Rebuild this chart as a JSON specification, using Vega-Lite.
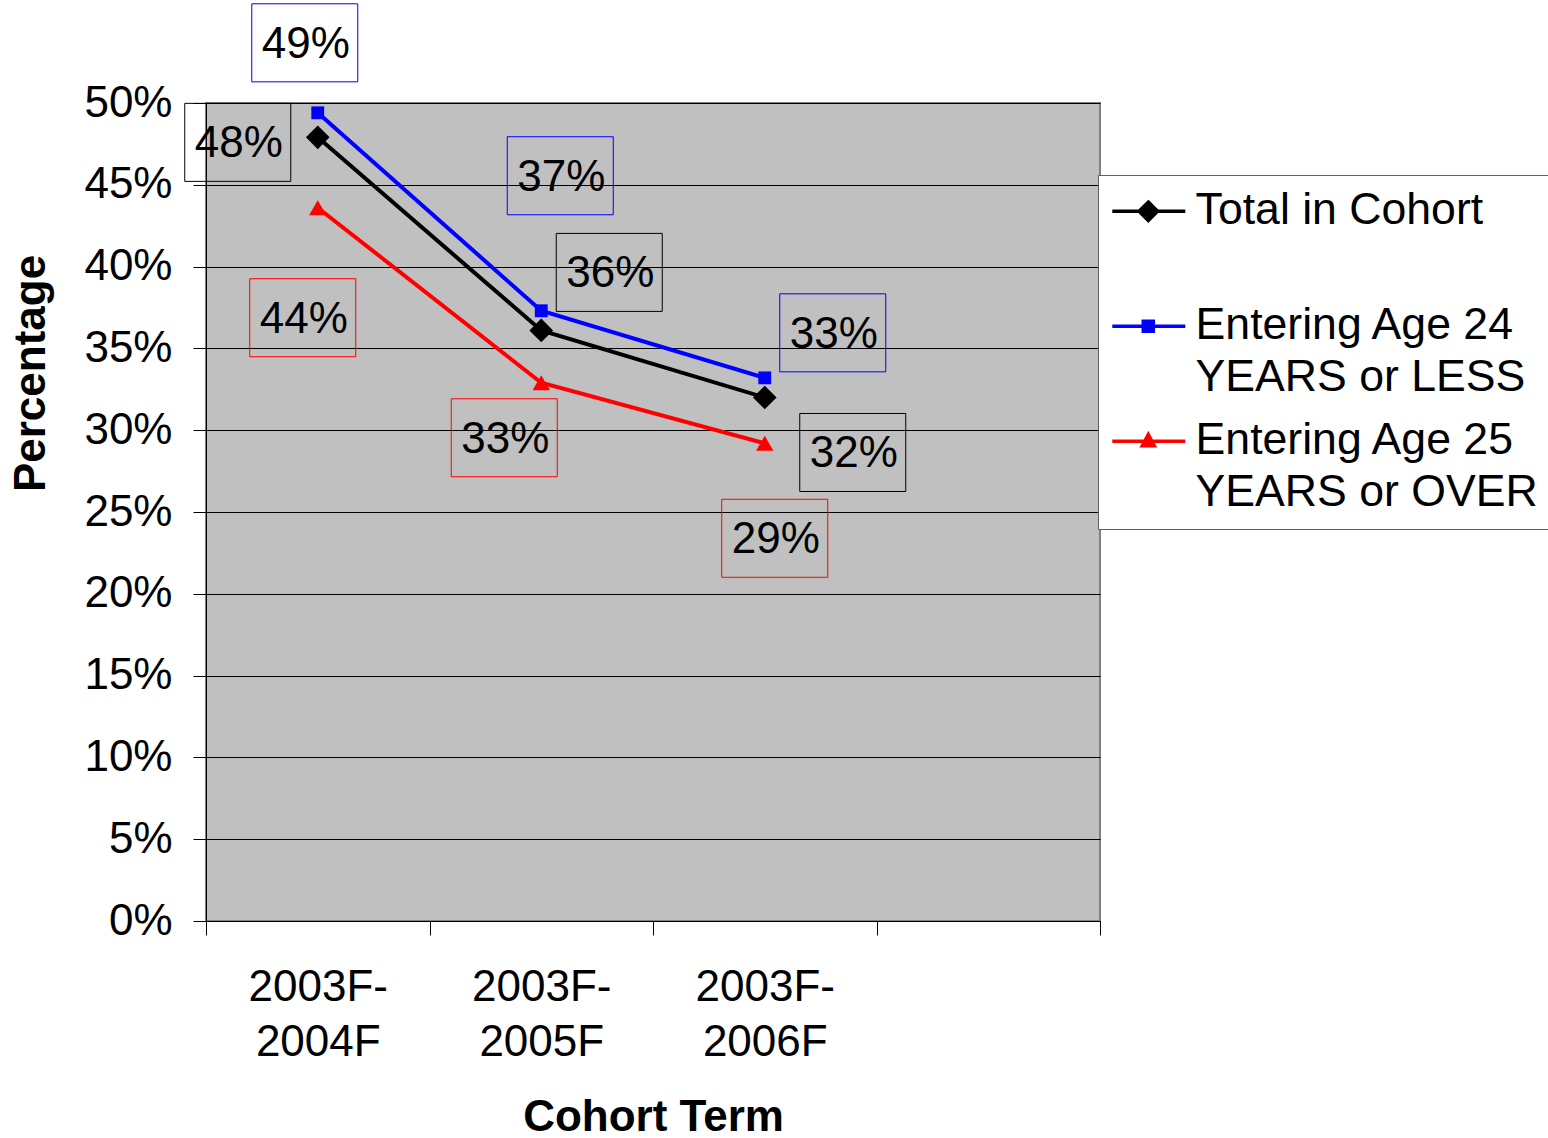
{
  "$schema": "https://vega.github.io/schema/vega-lite/v6.json",
  "width": 894,
  "height": 818,
  "autosize": {"type": "none"},
  "padding": {"left": 206, "top": 103, "right": 448, "bottom": 217},
  "background": "white",
  "config": {
    "font": "Liberation Sans",
    "view": {"fill": "#C0C0C0", "stroke": "#808080", "strokeWidth": 2},
    "style": {"guide-label": {"lineHeight": 52}},
    "legend": {
      "title": null,
      "orient": "none",
      "legendX": 892,
      "legendY": 72,
      "direction": "vertical",
      "columns": 1,
      "padding": 14,
      "fillColor": "white",
      "strokeColor": "#606060",
      "symbolSize": 1600,
      "symbolStrokeWidth": 3.5,
      "labelFontSize": 44.6,
      "labelColor": "black",
      "labelLimit": 1000,
      "labelOffset": 39,
      "labelBaseline": "middle",
      "rowPadding": 18
    }
  },
  "data": {
    "values": [
      {"series": "Total in Cohort", "term": "2003F-2004F", "pct": 0.479},
      {"series": "Total in Cohort", "term": "2003F-2005F", "pct": 0.361},
      {"series": "Total in Cohort", "term": "2003F-2006F", "pct": 0.320},
      {"series": "Entering Age 24 YEARS or LESS", "term": "2003F-2004F", "pct": 0.494},
      {"series": "Entering Age 24 YEARS or LESS", "term": "2003F-2005F", "pct": 0.373},
      {"series": "Entering Age 24 YEARS or LESS", "term": "2003F-2006F", "pct": 0.332},
      {"series": "Entering Age 25 YEARS or OVER", "term": "2003F-2004F", "pct": 0.436},
      {"series": "Entering Age 25 YEARS or OVER", "term": "2003F-2005F", "pct": 0.329},
      {"series": "Entering Age 25 YEARS or OVER", "term": "2003F-2006F", "pct": 0.292}
    ]
  },
  "encoding": {
    "x": {
      "field": "term",
      "type": "nominal",
      "scale": {"type": "band", "domain": ["2003F-2004F", "2003F-2005F", "2003F-2006F", " "], "paddingInner": 0, "paddingOuter": 0},
      "axis": {
        "title": "Cohort Term",
        "titleFontSize": 44,
        "titleFontWeight": "bold",
        "titleColor": "black",
        "titlePadding": 31,
        "labelAngle": 0,
        "labelFontSize": 44,
        "labelColor": "black",
        "labelLineHeight": 55,
        "labelPadding": 30,
        "labelExpr": "[slice(datum.label, 0, 6), slice(datum.label, 6)]",
        "tickBand": "extent",
        "tickSize": 14,
        "tickColor": "black",
        "domainColor": "black",
        "grid": false
      }
    },
    "y": {
      "field": "pct",
      "type": "quantitative",
      "scale": {"domain": [0, 0.5], "nice": false},
      "axis": {
        "title": "Percentage",
        "titleFontSize": 44,
        "titleFontWeight": "bold",
        "titleColor": "black",
        "titlePadding": 30,
        "titleY": 270,
        "values": [0, 0.05, 0.1, 0.15, 0.2, 0.25, 0.3, 0.35, 0.4, 0.45, 0.5],
        "format": ".0%",
        "labelFontSize": 44,
        "labelColor": "black",
        "labelPadding": 21,
        "tickSize": 13,
        "tickColor": "black",
        "domainColor": "black",
        "grid": true,
        "gridColor": "black",
        "gridWidth": 1
      }
    }
  },
  "layer": [
    {
      "mark": {"type": "line", "strokeWidth": 4},
      "encoding": {
        "color": {
          "field": "series",
          "type": "nominal",
          "scale": {"domain": ["Total in Cohort", "Entering Age 24 YEARS or LESS", "Entering Age 25 YEARS or OVER"], "range": ["#000000", "#0000FF", "#FF0000"]},
          "legend": null
        }
      }
    },
    {
      "transform": [{"filter": "datum.series === 'Total in Cohort'"}],
      "mark": {"type": "point", "shape": "diamond", "size": 560, "filled": true, "color": "#000000", "opacity": 1}
    },
    {
      "transform": [{"filter": "datum.series === 'Entering Age 24 YEARS or LESS'"}],
      "mark": {"type": "point", "shape": "square", "size": 165, "filled": true, "color": "#0000FF", "opacity": 1}
    },
    {
      "transform": [{"filter": "datum.series === 'Entering Age 25 YEARS or OVER'"}],
      "mark": {"type": "point", "shape": "triangle-up", "size": 300, "filled": true, "color": "#FF0000", "opacity": 1}
    },
    {
      "transform": [{"filter": "false"}],
      "mark": {"type": "point", "filled": true, "opacity": 1},
      "encoding": {
        "fill": {
          "field": "series",
          "type": "nominal",
          "scale": {"domain": ["Total in Cohort", "Entering Age 24 YEARS or LESS", "Entering Age 25 YEARS or OVER"], "range": ["#000000", "#0000FF", "#FF0000"]}
        },
        "stroke": {
          "field": "series",
          "type": "nominal",
          "scale": {"domain": ["Total in Cohort", "Entering Age 24 YEARS or LESS", "Entering Age 25 YEARS or OVER"], "range": ["#000000", "#0000FF", "#FF0000"]}
        },
        "shape": {
          "field": "series",
          "type": "nominal",
          "scale": {
            "domain": ["Total in Cohort", "Entering Age 24 YEARS or LESS", "Entering Age 25 YEARS or OVER"],
            "range": [
              "M-1.1,0H2.55M0.7,-0.46L1.16,0L0.7,0.46L0.24,0Z",
              "M-1.1,0H2.55M0.45,-0.25H0.95V0.25H0.45Z",
              "M-1.1,0H2.55M0.7,-0.34L1.0,0.22H0.4Z"
            ]
          },
          "legend": {
            "labelExpr": "datum.label === 'Total in Cohort' ? ['Total in Cohort', ' '] : datum.label === 'Entering Age 24 YEARS or LESS' ? ['Entering Age 24', 'YEARS or LESS'] : ['Entering Age 25', 'YEARS or OVER']"
          }
        }
      }
    },
    {
      "transform": [{"filter": "datum.series === 'Entering Age 24 YEARS or LESS' && datum.term === '2003F-2004F'"}],
      "layer": [
        {"mark": {"type": "point", "shape": "M-1,-0.736H1V0.736H-1Z", "size": 11236, "filled": false, "stroke": "#0000FF", "strokeWidth": 1, "opacity": 1, "xOffset": -13, "yOffset": -70}},
        {"mark": {"type": "text", "fontSize": 44, "baseline": "middle", "color": "black", "xOffset": -12, "yOffset": -68}, "encoding": {"text": {"field": "pct", "type": "quantitative", "format": ".0%"}}}
      ]
    },
    {
      "transform": [{"filter": "datum.series === 'Total in Cohort' && datum.term === '2003F-2004F'"}],
      "layer": [
        {"mark": {"type": "point", "shape": "M-1,-0.736H1V0.736H-1Z", "size": 11236, "filled": false, "stroke": "#000000", "strokeWidth": 1, "opacity": 1, "xOffset": -80, "yOffset": 5}},
        {"mark": {"type": "text", "fontSize": 44, "baseline": "middle", "color": "black", "xOffset": -79, "yOffset": 7}, "encoding": {"text": {"field": "pct", "type": "quantitative", "format": ".0%"}}}
      ]
    },
    {
      "transform": [{"filter": "datum.series === 'Entering Age 25 YEARS or OVER' && datum.term === '2003F-2004F'"}],
      "layer": [
        {"mark": {"type": "point", "shape": "M-1,-0.736H1V0.736H-1Z", "size": 11236, "filled": false, "stroke": "#FF0000", "strokeWidth": 1, "opacity": 1, "xOffset": -15, "yOffset": 110}},
        {"mark": {"type": "text", "fontSize": 44, "baseline": "middle", "color": "black", "xOffset": -14, "yOffset": 112}, "encoding": {"text": {"field": "pct", "type": "quantitative", "format": ".0%"}}}
      ]
    },
    {
      "transform": [{"filter": "datum.series === 'Entering Age 24 YEARS or LESS' && datum.term === '2003F-2005F'"}],
      "layer": [
        {"mark": {"type": "point", "shape": "M-1,-0.736H1V0.736H-1Z", "size": 11236, "filled": false, "stroke": "#0000FF", "strokeWidth": 1, "opacity": 1, "xOffset": 19, "yOffset": -135}},
        {"mark": {"type": "text", "fontSize": 44, "baseline": "middle", "color": "black", "xOffset": 20, "yOffset": -133}, "encoding": {"text": {"field": "pct", "type": "quantitative", "format": ".0%"}}}
      ]
    },
    {
      "transform": [{"filter": "datum.series === 'Total in Cohort' && datum.term === '2003F-2005F'"}],
      "layer": [
        {"mark": {"type": "point", "shape": "M-1,-0.736H1V0.736H-1Z", "size": 11236, "filled": false, "stroke": "#000000", "strokeWidth": 1, "opacity": 1, "xOffset": 68, "yOffset": -58}},
        {"mark": {"type": "text", "fontSize": 44, "baseline": "middle", "color": "black", "xOffset": 69, "yOffset": -56}, "encoding": {"text": {"field": "pct", "type": "quantitative", "format": ".0%"}}}
      ]
    },
    {
      "transform": [{"filter": "datum.series === 'Entering Age 25 YEARS or OVER' && datum.term === '2003F-2005F'"}],
      "layer": [
        {"mark": {"type": "point", "shape": "M-1,-0.736H1V0.736H-1Z", "size": 11236, "filled": false, "stroke": "#FF0000", "strokeWidth": 1, "opacity": 1, "xOffset": -37, "yOffset": 55}},
        {"mark": {"type": "text", "fontSize": 44, "baseline": "middle", "color": "black", "xOffset": -36, "yOffset": 57}, "encoding": {"text": {"field": "pct", "type": "quantitative", "format": ".0%"}}}
      ]
    },
    {
      "transform": [{"filter": "datum.series === 'Entering Age 24 YEARS or LESS' && datum.term === '2003F-2006F'"}],
      "layer": [
        {"mark": {"type": "point", "shape": "M-1,-0.736H1V0.736H-1Z", "size": 11236, "filled": false, "stroke": "#0000FF", "strokeWidth": 1, "opacity": 1, "xOffset": 68, "yOffset": -45}},
        {"mark": {"type": "text", "fontSize": 44, "baseline": "middle", "color": "black", "xOffset": 69, "yOffset": -43}, "encoding": {"text": {"field": "pct", "type": "quantitative", "format": ".0%"}}}
      ]
    },
    {
      "transform": [{"filter": "datum.series === 'Total in Cohort' && datum.term === '2003F-2006F'"}],
      "layer": [
        {"mark": {"type": "point", "shape": "M-1,-0.736H1V0.736H-1Z", "size": 11236, "filled": false, "stroke": "#000000", "strokeWidth": 1, "opacity": 1, "xOffset": 88, "yOffset": 55}},
        {"mark": {"type": "text", "fontSize": 44, "baseline": "middle", "color": "black", "xOffset": 89, "yOffset": 57}, "encoding": {"text": {"field": "pct", "type": "quantitative", "format": ".0%"}}}
      ]
    },
    {
      "transform": [{"filter": "datum.series === 'Entering Age 25 YEARS or OVER' && datum.term === '2003F-2006F'"}],
      "layer": [
        {"mark": {"type": "point", "shape": "M-1,-0.736H1V0.736H-1Z", "size": 11236, "filled": false, "stroke": "#FF0000", "strokeWidth": 1, "opacity": 1, "xOffset": 10, "yOffset": 95}},
        {"mark": {"type": "text", "fontSize": 44, "baseline": "middle", "color": "black", "xOffset": 11, "yOffset": 97}, "encoding": {"text": {"field": "pct", "type": "quantitative", "format": ".0%"}}}
      ]
    }
  ],
  "resolve": {
    "scale": {"shape": "independent", "fill": "independent", "stroke": "independent"},
    "legend": {"shape": "independent", "fill": "independent", "stroke": "independent"}
  }
}
